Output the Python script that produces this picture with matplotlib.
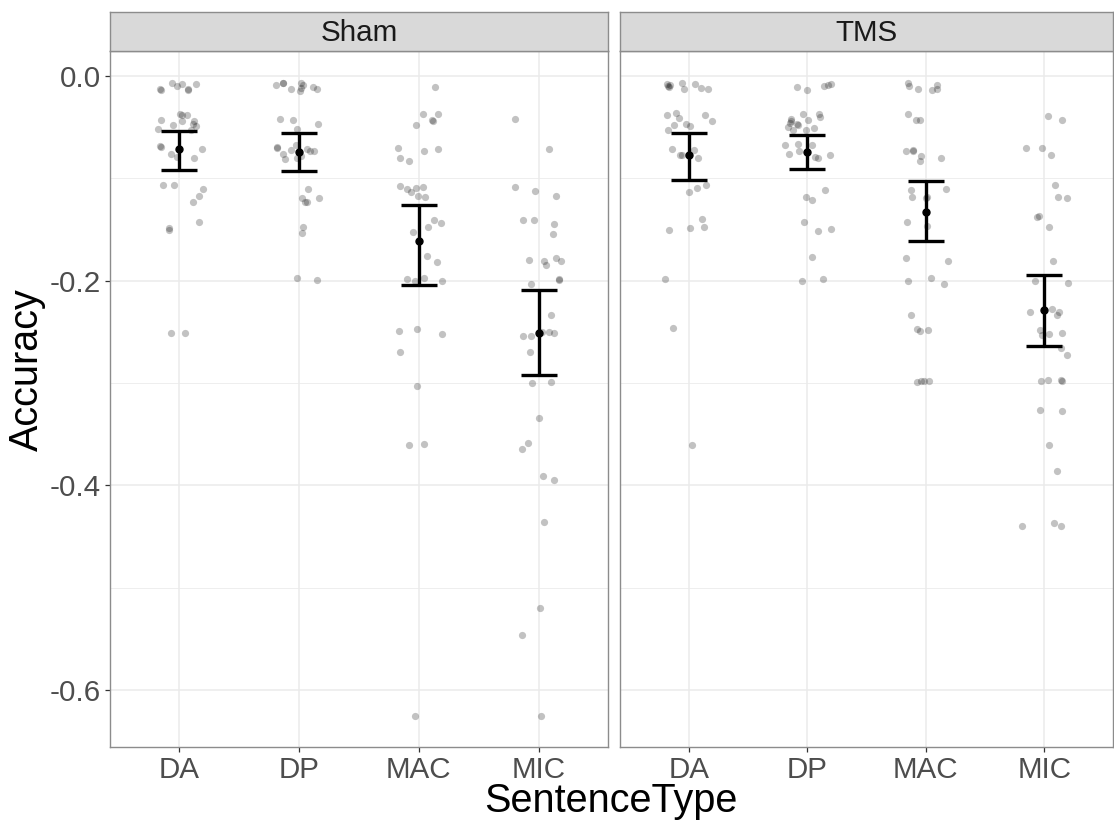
import matplotlib
matplotlib.use("Agg")
import matplotlib.pyplot as plt

plt.rcParams['font.family'] = ['Liberation Sans', 'DejaVu Sans']

sentence_types = ["DA", "DP", "MAC", "MIC"]
conditions = ["Sham", "TMS"]

# per-participant accuracy and the horizontal jitter of each dot
sham_da_acc = [-0.007, -0.010, -0.008, -0.013, -0.0135, -0.008, -0.013, -0.014, -0.037, -0.038,
               -0.038, -0.043, -0.048, -0.044, -0.044, -0.047, -0.049, -0.052, -0.053, -0.068,
               -0.069, -0.076, -0.079, -0.071, -0.080, -0.106, -0.106, -0.110, -0.117, -0.123,
               -0.148, -0.150, -0.143, -0.251, -0.251]
sham_da_jit = [-0.061, -0.019, 0.022, 0.072, 0.075, 0.139, -0.161, -0.153, 0.006, 0.019,
               0.067, -0.158, -0.056, 0.022, 0.119, 0.117, 0.139, -0.178, 0.100, -0.161,
               -0.156, -0.072, -0.022, 0.186, 0.122, -0.139, -0.042, 0.197, 0.161, 0.114,
               -0.089, -0.089, 0.164, -0.067, 0.050]

sham_dp_acc = [-0.0088, -0.0065, -0.007, -0.0124, -0.007, -0.0088, -0.0146, -0.012, -0.0102, -0.0124,
               -0.042, -0.0433, -0.0465, -0.0517, -0.069, -0.0706, -0.0719, -0.0673, -0.0713, -0.0729,
               -0.0735, -0.076, -0.0813, -0.0797, -0.078, -0.110, -0.1187, -0.123, -0.1235, -0.1187,
               -0.1473, -0.153, -0.197, -0.199]
sham_dp_jit = [-0.194, -0.139, -0.131, -0.069, 0.014, 0.036, 0.008, 0.019, 0.119, 0.147,
               -0.161, -0.053, 0.158, -0.019, -0.181, -0.186, -0.064, -0.028, 0.069, 0.092,
               0.125, -0.139, -0.119, -0.014, 0.014, 0.078, 0.025, 0.053, 0.064, 0.164,
               0.031, 0.025, -0.017, 0.150]

sham_mac_acc = [-0.0104, -0.037, -0.043, -0.044, -0.0374, -0.0475, -0.0702, -0.080, -0.0826, -0.0729,
                -0.0709, -0.1076, -0.110, -0.1132, -0.1096, -0.1086, -0.1174, -0.118, -0.1408, -0.1434,
                -0.1473, -0.1519, -0.1756, -0.182, -0.1984, -0.2003, -0.1977, -0.2007, -0.2488, -0.2472,
                -0.252, -0.2696, -0.3027, -0.360, -0.359, -0.6254]
sham_mac_jit = [0.136, 0.036, 0.106, 0.114, 0.164, -0.028, -0.175, -0.158, -0.086, 0.047,
                0.158, -0.158, -0.103, -0.064, -0.028, 0.031, -0.008, 0.053, 0.125, 0.186,
                0.075, -0.053, 0.069, 0.153, -0.097, -0.036, 0.044, 0.192, -0.164, -0.019,
                0.192, -0.161, -0.019, -0.081, 0.044, -0.030]

sham_mic_acc = [-0.0419, -0.0711, -0.1081, -0.1122, -0.1167, -0.141, -0.141, -0.1444, -0.1541, -0.1795,
                -0.1803, -0.1844, -0.1776, -0.1806, -0.1982, -0.199, -0.2034, -0.2337, -0.2536, -0.2536,
                -0.2502, -0.2502, -0.2513, -0.2696, -0.3003, -0.2988, -0.3336, -0.3586, -0.3642, -0.3904,
                -0.3942, -0.4358, -0.5197, -0.5463, -0.6254]
sham_mic_jit = [-0.194, 0.083, -0.200, -0.033, 0.144, -0.133, -0.042, 0.131, 0.122, -0.083,
                0.042, 0.064, 0.142, 0.189, 0.167, 0.172, -0.061, 0.106, -0.133, -0.064,
                0.031, 0.086, 0.125, -0.075, -0.058, 0.103, 0.003, -0.089, -0.139, 0.039,
                0.125, 0.045, 0.010, -0.140, 0.020]

tms_da_acc = [-0.0078, -0.0098, -0.0104, -0.0088, -0.0065, -0.013, -0.0078, -0.0117, -0.013, -0.038,
              -0.0364, -0.0413, -0.038, -0.0439, -0.0481, -0.0527, -0.0468, -0.0488, -0.0709, -0.0774,
              -0.0774, -0.0722, -0.0797, -0.1132, -0.1093, -0.1067, -0.1502, -0.1486, -0.1395, -0.147,
              -0.1987, -0.2459, -0.3603]
tms_da_jit = [-0.183, -0.178, -0.167, -0.158, -0.061, -0.039, 0.050, 0.103, 0.161, -0.181,
              -0.111, -0.081, 0.139, 0.197, -0.128, -0.172, -0.019, 0.014, -0.142, -0.075,
              -0.053, 0.042, 0.078, 0.006, 0.067, 0.144, -0.164, 0.008, 0.111, 0.128,
              -0.200, -0.136, 0.031]

tms_dp_acc = [-0.011, -0.014, -0.0098, -0.0085, -0.0075, -0.0368, -0.0423, -0.0436, -0.0455, -0.0465,
              -0.0481, -0.0426, -0.0368, -0.0403, -0.0501, -0.0524, -0.0527, -0.0507, -0.0673, -0.0663,
              -0.0676, -0.0764, -0.0735, -0.0793, -0.0803, -0.0771, -0.1109, -0.1177, -0.121, -0.1428,
              -0.1515, -0.149, -0.1766, -0.200, -0.198]
tms_dp_jit = [-0.089, 0.000, 0.139, 0.175, 0.200, -0.039, -0.139, -0.133, -0.147, -0.089,
              -0.075, 0.006, 0.097, 0.111, -0.161, -0.119, -0.008, 0.053, -0.189, -0.078,
              0.036, -0.153, -0.069, 0.069, 0.089, 0.192, 0.153, -0.014, 0.036, -0.031,
              0.094, 0.197, 0.044, -0.042, 0.133]

tms_mac_acc = [-0.0072, -0.0098, -0.013, -0.0137, -0.0085, -0.013, -0.0368, -0.0429, -0.0429, -0.0735,
               -0.0725, -0.0735, -0.078, -0.0833, -0.0797, -0.1115, -0.1184, -0.1187, -0.1177, -0.110,
               -0.1428, -0.1463, -0.1779, -0.1808, -0.2007, -0.1977, -0.2036, -0.2335, -0.2468, -0.2491,
               -0.2481, -0.2989, -0.2976, -0.2983, -0.2983]
tms_mac_jit = [-0.147, -0.142, -0.067, 0.053, 0.097, 0.097, -0.153, -0.086, -0.047, -0.167,
               -0.106, -0.111, -0.044, -0.047, 0.128, -0.128, -0.117, 0.000, 0.011, 0.175,
               -0.158, 0.011, -0.167, 0.186, -0.147, 0.042, 0.153, -0.122, -0.078, -0.047,
               0.022, -0.072, -0.036, -0.017, 0.025]

tms_mic_acc = [-0.0394, -0.0433, -0.0699, -0.0706, -0.0771, -0.1063, -0.1184, -0.119, -0.1376, -0.1363,
               -0.1473, -0.1805, -0.2007, -0.2026, -0.2306, -0.2273, -0.2306, -0.2332, -0.2481, -0.253,
               -0.252, -0.2514, -0.266, -0.2722, -0.2979, -0.2966, -0.2966, -0.2975, -0.3262, -0.3272,
               -0.3607, -0.386, -0.440, -0.437, -0.4394]
tms_mic_jit = [0.033, 0.153, -0.158, -0.017, 0.056, 0.092, 0.119, 0.192, -0.058, -0.047,
               0.044, 0.075, -0.078, 0.197, -0.122, 0.064, 0.125, 0.111, -0.036, -0.022,
               0.044, 0.150, 0.139, 0.194, -0.028, 0.028, 0.144, 0.150, -0.033, 0.150,
               0.042, 0.110, -0.190, 0.083, 0.140]

# condition means with lower / upper error bar limits
sham_mean = [-0.0715, -0.0738, -0.1607, -0.2513]
sham_lo = [-0.0917, -0.0927, -0.2046, -0.2920]
sham_hi = [-0.0540, -0.0560, -0.1259, -0.2090]
tms_mean = [-0.0774, -0.0745, -0.1324, -0.2290]
tms_lo = [-0.1018, -0.0907, -0.1616, -0.2641]
tms_hi = [-0.0553, -0.0579, -0.1028, -0.1941]

panels = {
    "Sham": ([sham_da_acc, sham_dp_acc, sham_mac_acc, sham_mic_acc],
             [sham_da_jit, sham_dp_jit, sham_mac_jit, sham_mic_jit],
             sham_mean, sham_lo, sham_hi),
    "TMS": ([tms_da_acc, tms_dp_acc, tms_mac_acc, tms_mic_acc],
            [tms_da_jit, tms_dp_jit, tms_mac_jit, tms_mic_jit],
            tms_mean, tms_lo, tms_hi),
}

W, H = 1114, 825
fig = plt.figure(figsize=(W / 100, H / 100), dpi=100)


def px_axes(x0, y0, x1, y1):
    # axes placed by pixel box (top-left origin)
    return fig.add_axes([x0 / W, 1 - y1 / H, (x1 - x0) / W, (y1 - y0) / H])


border = "#8c8c8c"
panel_x = [(110, 608), (620, 1113)]
top, strip_top, bottom = 51, 12, 747

for i, cond in enumerate(conditions):
    accs, jits, mean, lo, hi = panels[cond]
    x0, x1 = panel_x[i]
    ax = px_axes(x0, top, x1, bottom)
    strip = px_axes(x0, strip_top, x1, top)

    for k in range(len(sentence_types)):
        xs = [k + j for j in jits[k]]
        ax.plot(xs, accs[k], "o", color="black", alpha=0.24, ms=5.2, mew=0, zorder=2)

    pos = list(range(len(sentence_types)))
    yerr = [[m - l for m, l in zip(mean, lo)], [h - m for m, h in zip(mean, hi)]]
    ax.errorbar(pos, mean, yerr=yerr, fmt="o", color="black", ms=5, lw=2.4,
                capsize=12.9, capthick=2.4, zorder=3)

    ax.set_xlim(-0.58, 3.58)
    ax.set_ylim(-0.6555, 0.0245)
    ax.set_xticks(pos)
    ax.set_xticklabels(sentence_types)
    ax.set_yticks([0.0, -0.2, -0.4, -0.6])
    ax.set_yticklabels(["0.0", "-0.2", "-0.4", "-0.6"])
    ax.set_yticks([-0.1, -0.3, -0.5], minor=True)
    ax.grid(True, which="major", color="#EBEBEB", lw=1.1, zorder=0)
    ax.grid(True, which="minor", axis="y", color="#EBEBEB", lw=0.6, zorder=0)
    ax.set_axisbelow(True)
    ax.tick_params(which="major", length=3.5, width=0.9, color="#333333",
                   labelsize=21.3, labelcolor="#4D4D4D", pad=3)
    ax.tick_params(which="minor", length=0)
    for s in ax.spines.values():
        s.set_color(border)
        s.set_linewidth(1.0)
    if i > 0:
        ax.tick_params(axis="y", left=False, labelleft=False)

    strip.set_facecolor("#D9D9D9")
    strip.set_xticks([])
    strip.set_yticks([])
    for s in strip.spines.values():
        s.set_color(border)
        s.set_linewidth(1.0)
    strip.text(0.5, 0.47, cond, ha="center", va="center", fontsize=21.3,
               color="#1A1A1A", transform=strip.transAxes)

fig.text(27 / W, 1 - 370 / H, "Accuracy", rotation=90, ha="center", va="center",
         fontsize=28.5, color="black")
fig.text(611 / W, 1 - 801 / H, "SentenceType", ha="center", va="center",
         fontsize=28.5, color="black")

fig.savefig("out.png", dpi=100, facecolor="white")
